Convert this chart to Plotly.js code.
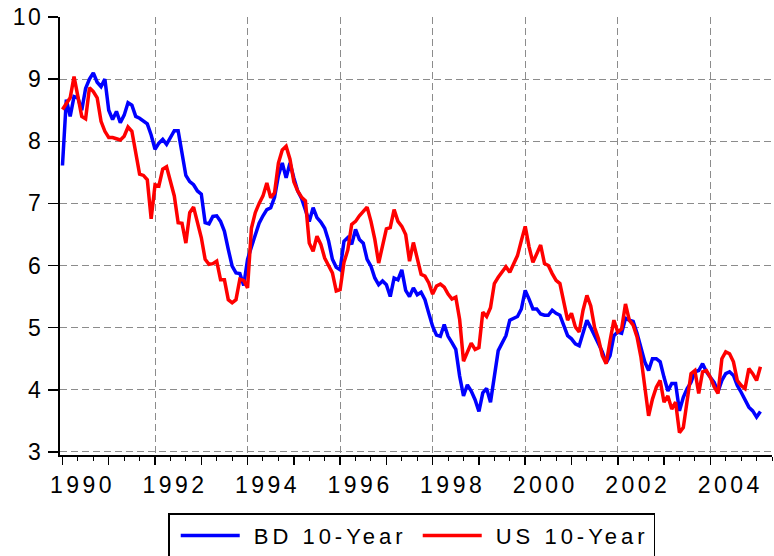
<!DOCTYPE html>
<html>
<head>
<meta charset="utf-8">
<script src="https://cdn.plot.ly/plotly-3.0.1.min.js"></script>
<style>
  html, body { margin: 0; padding: 0; background: #ffffff; }
  #chart { width: 774px; height: 556px; }
  #chart .xtick text { letter-spacing: 3.5px; }
  #chart .ytick text { letter-spacing: 2.5px; }
  #chart .legendtext { letter-spacing: 4px; transform: translateX(15px); }
  #chart .legendlines path { transform: translateX(6px); }
</style>
</head>
<body>
<div id="chart"></div>
<script>
// Monthly observations, January 1990 onward
const startYear = 1990;

const bd10 = [
  7.61, 8.67, 8.40, 8.72, 8.70, 8.50, 8.85, 9.00, 9.10, 8.95, 8.88, 9.00,
  8.50, 8.35, 8.48, 8.30, 8.42, 8.62, 8.58, 8.40, 8.37, 8.33, 8.28, 8.10,
  7.87, 7.97, 8.03, 7.95, 8.05, 8.17, 8.17, 7.80, 7.45, 7.35, 7.30, 7.20,
  7.15, 6.69, 6.67, 6.79, 6.80, 6.71, 6.55, 6.26, 5.99, 5.88, 5.87, 5.68,
  6.10, 6.30, 6.50, 6.68, 6.80, 6.90, 6.93, 7.10, 7.45, 7.65, 7.41, 7.65,
  7.41, 7.20, 7.08, 6.90, 6.71, 6.93, 6.77, 6.70, 6.60, 6.40, 6.10, 5.97,
  5.93, 6.39, 6.45, 6.34, 6.58, 6.42, 6.36, 6.10, 5.99, 5.80, 5.69, 5.75,
  5.69, 5.50, 5.80, 5.77, 5.93, 5.60, 5.50, 5.64, 5.53, 5.57, 5.45, 5.23,
  5.02, 4.88, 4.86, 5.05, 4.86, 4.76, 4.65, 4.22, 3.90, 4.08, 3.98, 3.84,
  3.65, 3.95, 4.02, 3.80, 4.26, 4.63, 4.75, 4.87, 5.12, 5.15, 5.18, 5.30,
  5.60, 5.46, 5.30, 5.30, 5.22, 5.20, 5.20, 5.28, 5.23, 5.20, 5.03, 4.87,
  4.82, 4.74, 4.71, 4.93, 5.12, 5.00, 4.87, 4.77, 4.61, 4.43, 4.55, 4.87,
  4.93, 4.91, 5.15, 5.12, 5.10, 4.91, 4.66, 4.45, 4.31, 4.50, 4.50, 4.45,
  4.20, 3.98, 4.10, 4.10, 3.66, 3.88, 4.02, 4.12, 4.29, 4.31, 4.42, 4.29,
  4.20, 4.12, 3.97, 4.15, 4.26, 4.29, 4.23, 4.07, 3.96, 3.85, 3.72, 3.66,
  3.56, 3.65
];

const us10 = [
  8.51, 8.60, 8.70, 9.04, 8.70, 8.40, 8.36, 8.86, 8.80, 8.70, 8.32, 8.16,
  8.06, 8.06, 8.04, 8.02, 8.08, 8.23, 8.16, 7.80, 7.47, 7.45, 7.38, 6.75,
  7.30, 7.28, 7.55, 7.59, 7.33, 7.12, 6.69, 6.68, 6.36, 6.85, 6.94, 6.69,
  6.45, 6.10, 6.02, 6.03, 6.07, 5.77, 5.77, 5.45, 5.40, 5.45, 5.78, 5.76,
  5.64, 6.60, 6.85, 7.00, 7.12, 7.33, 7.09, 7.17, 7.65, 7.86, 7.92, 7.71,
  7.35, 7.20, 7.10, 7.04, 6.36, 6.23, 6.47, 6.34, 6.12, 6.00, 5.88, 5.59,
  5.61, 6.05, 6.25, 6.66, 6.71, 6.80, 6.87, 6.94, 6.71, 6.42, 6.04, 6.31,
  6.59, 6.61, 6.90, 6.71, 6.63, 6.50, 6.07, 6.37, 6.10, 5.86, 5.83, 5.72,
  5.54, 5.67, 5.70, 5.65, 5.54, 5.46, 5.49, 5.13, 4.46, 4.62, 4.75, 4.65,
  4.68, 5.25, 5.18, 5.32, 5.71, 5.81, 5.89, 5.98, 5.89, 6.02, 6.16, 6.40,
  6.63, 6.30, 6.05, 6.19, 6.33, 6.03, 6.00, 5.87, 5.76, 5.71, 5.44, 5.12,
  5.23, 5.01, 4.93, 5.28, 5.52, 5.35, 5.00, 4.82, 4.55, 4.42, 4.79, 5.12,
  4.93, 4.98, 5.38, 5.12, 5.04, 4.85, 4.53, 4.10, 3.58, 3.85, 4.04, 4.15,
  3.80, 3.90, 3.69, 3.80, 3.31, 3.39, 3.80, 4.26, 4.31, 3.94, 4.29, 4.31,
  4.20, 4.05, 3.94, 4.50, 4.61, 4.58, 4.45, 4.15, 4.07, 4.02, 4.34, 4.26,
  4.15, 4.37
];

const seriesNames = ["BD 10-Year", "US 10-Year"];
const tickYears = [1990, 1991, 1992, 1993, 1994, 1995, 1996, 1997, 1998, 1999, 2000, 2001, 2002, 2003, 2004];
const tickLabels = ["1990", "", "1992", "", "1994", "", "1996", "", "1998", "", "2000", "", "2002", "", "2004"];
const gridYears = [1992, 1994, 1996, 1998, 2000, 2002, 2004];
const yTicks = [3, 4, 5, 6, 7, 8, 9, 10];
const yGrid = [3, 4, 5, 6, 7, 8, 9];

const xs = bd10.map((_, i) => startYear + i / 12);
const FONT = "Liberation Sans, Arial, sans-serif";

const traces = [
  { x: xs, y: bd10, type: "scatter", mode: "lines", name: seriesNames[0],
    line: { color: "#0000ff", width: 3.5 } },
  { x: xs, y: us10, type: "scatter", mode: "lines", name: seriesNames[1],
    line: { color: "#ff0000", width: 3.5 } }
];

const xRange = [startYear - 0.64 / 12, startYear + 184 / 12];

const layout = {
  width: 774, height: 556,
  margin: { l: 60, r: 2, t: 17, b: 101, pad: 0 },
  paper_bgcolor: "#ffffff", plot_bgcolor: "#ffffff",
  font: { family: FONT, size: 23, color: "#000000" },
  showlegend: true,
  legend: {
    orientation: "h", xref: "paper", x: 0.494, xanchor: "center",
    yref: "container", y: 0.077, yanchor: "top",
    bordercolor: "#000000", borderwidth: 1.5, bgcolor: "#ffffff",
    font: { family: FONT, size: 22, color: "#000000" },
    itemwidth: 59,
    entrywidth: 168, entrywidthmode: "pixels", tracegroupgap: 0
  },
  xaxis: {
    range: xRange, showgrid: false, zeroline: false, automargin: false,
    showline: true, linecolor: "#000000", linewidth: 2,
    tickmode: "array", tickvals: tickYears, ticktext: tickLabels,
    ticks: "outside", ticklen: 8, tickwidth: 1.5, tickcolor: "#000000",
    ticklabelshift: 20,
    tickfont: { family: FONT, size: 23, color: "#000000" },
    minor: { dtick: 1 / 3, tick0: 1990, ticks: "outside", ticklen: 4, tickwidth: 1, tickcolor: "#000000", showgrid: false }
  },
  xaxis2: {
    overlaying: "x", matches: "x", range: xRange,
    showgrid: true, gridcolor: "#8c8c8c", gridwidth: 1, griddash: "7px,4px",
    tickmode: "array", tickvals: gridYears, showticklabels: false, ticks: "",
    showline: false, zeroline: false
  },
  yaxis: {
    range: [2.95, 10], showgrid: false, zeroline: false, automargin: false,
    showline: true, linecolor: "#000000", linewidth: 2,
    tickmode: "array", tickvals: yTicks,
    ticks: "outside", ticklen: 10, tickwidth: 1.5, tickcolor: "#000000",
    tickfont: { family: FONT, size: 23, color: "#000000" },
    minor: { tickmode: "array", tickvals: yGrid, showgrid: true, gridcolor: "#8c8c8c", gridwidth: 1, griddash: "7px,4px", ticks: "" }
  }
};

// invisible helper trace so the grid overlay axis is laid out
traces.unshift({ x: [xRange[0]], y: [5], xaxis: "x2", yaxis: "y", mode: "markers",
  marker: { opacity: 0 }, showlegend: false, hoverinfo: "skip" });

Plotly.newPlot("chart", traces, layout, { staticPlot: true, displayModeBar: false });
</script>
</body>
</html>
